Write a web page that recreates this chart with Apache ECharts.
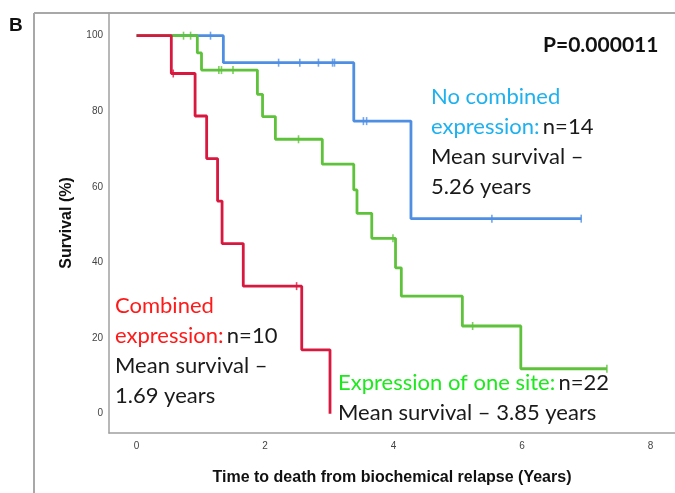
<!DOCTYPE html>
<html>
<head>
<meta charset="utf-8">
<script src="https://cdn.jsdelivr.net/npm/echarts@6/dist/echarts.min.js"></script>
<style>html,body{margin:0;padding:0;background:#fff}#c{width:675px;height:493px}</style>
</head>
<body>
<div id="c"></div>
<script>
// Kaplan-Meier step points [time (years), survival %]
const blueSteps = [[0,100],[1.35,92.86],[3.38,77.4],[4.27,51.6],[6.92,51.6]];
const blueCensors = [[1.15,100],[2.21,92.86],[2.54,92.86],[2.83,92.86],[3.05,92.86],[3.08,92.86],[3.53,77.4],[3.58,77.4],[5.53,51.6],[6.92,51.6]];
const greenSteps = [[0,100],[0.945,95.45],[1.01,90.9],[1.88,84.5],[1.96,78.6],[2.16,72.6],[2.89,66.0],[3.38,59.2],[3.43,53.0],[3.66,46.4],[4.03,38.6],[4.12,31.1],[5.07,23.2],[5.98,11.9],[7.32,11.9]];
const greenCensors = [[0.73,100],[0.84,100],[1.28,90.9],[1.32,90.9],[1.5,90.9],[2.52,72.6],[3.99,46.4],[5.23,23.2],[7.32,11.9]];
const redSteps = [[0,100],[0.54,90],[0.91,78.75],[1.09,67.5],[1.26,56.25],[1.33,45],[1.66,33.75],[2.57,16.9],[3.01,0]];
const redCensors = [[0.57,90],[2.49,33.75]];
const xTicks = [0,2,4,6,8];
const yTicks = [0,20,40,60,80,100];

const BLUE = '#4f8fe3', GREEN = '#5ec23a', RED = '#d9183f';
const chart = echarts.init(document.getElementById('c'), null, {renderer:'canvas'});
function stepSeries(data, color){
  return {type:'line', step:'end', data:data, symbol:'none', lineStyle:{color:color,width:2.8}, silent:true, animation:false};
}
function censorSeries(data, color){
  return {type:'scatter', data:data, symbol:'rect', symbolSize:[1.6,8], itemStyle:{color:color}, silent:true, animation:false};
}
const txt = "Lato";
chart.setOption({
  animation:false,
  grid:{left:109, top:13, right:0, bottom:60},
  xAxis:{type:'value', min:-0.43, max:8.38,
    name:'Time to death from biochemical relapse (Years)', nameLocation:'middle', nameGap:37,
    nameTextStyle:{fontFamily:'Liberation Sans', fontWeight:'bold', fontSize:16, color:'#111'},
    axisLine:{show:true, onZero:false, lineStyle:{color:'#a0a0a0', width:1.5}},
    axisTick:{show:false},
    splitLine:{show:false},
    axisLabel:{customValues:xTicks, fontFamily:'Liberation Sans', fontSize:10, color:'#444', margin:8}
  },
  yAxis:{type:'value', min:-5.1, max:106,
    name:'Survival (%)', nameLocation:'middle', nameGap:34,
    nameTextStyle:{fontFamily:'Liberation Sans', fontWeight:'bold', fontSize:16, color:'#111'},
    axisLine:{show:true, onZero:false, lineStyle:{color:'#a0a0a0', width:1.5}},
    axisTick:{show:false},
    splitLine:{show:false},
    axisLabel:{customValues:yTicks, fontFamily:'Liberation Sans', fontSize:10, color:'#444', margin:6}
  },
  series:[
    stepSeries(blueSteps, BLUE), censorSeries(blueCensors, BLUE),
    stepSeries(greenSteps, GREEN), censorSeries(greenCensors, GREEN),
    stepSeries(redSteps, RED), censorSeries(redCensors, RED)
  ],
  graphic:[
    {type:'line', shape:{x1:34,y1:13,x2:675,y2:13}, style:{stroke:'#a8a8a8', lineWidth:2}},
    {type:'line', shape:{x1:34,y1:13,x2:34,y2:493}, style:{stroke:'#a8a8a8', lineWidth:2}},
    {type:'text', x:9, y:26, style:{text:'B', font:'bold 19px "Liberation Sans"', fill:'#111', verticalAlign:'middle'}},
    {type:'text', x:543, y:45, style:{text:'P=0.000011', font:'bold 21px '+txt, fill:'#111', verticalAlign:'middle'}},
    {type:'text', x:431, y:142, style:{
      text:'{b|No combined}\n{b|expression:} {k|n=14}\n{k|Mean survival –}\n{k|5.26 years}',
      verticalAlign:'middle', lineHeight:30,
      rich:{b:{fill:'#1eb1ef', font:'22px '+txt, lineHeight:30}, k:{fill:'#1a1a1a', font:'22px '+txt, lineHeight:30}}
    }},
    {type:'text', x:115, y:351, style:{
      text:'{r|Combined}\n{r|expression:} {k|n=10}\n{k|Mean survival –}\n{k|1.69 years}',
      verticalAlign:'middle', lineHeight:30,
      rich:{r:{fill:'#ff1a1a', font:'22px '+txt, lineHeight:30}, k:{fill:'#1a1a1a', font:'22px '+txt, lineHeight:30}}
    }},
    {type:'text', x:338, y:398, style:{
      text:'{g|Expression of one site:} {k|n=22}\n{k|Mean survival – 3.85 years}',
      verticalAlign:'middle', lineHeight:30,
      rich:{g:{fill:'#1ee81e', font:'22px '+txt, lineHeight:30}, k:{fill:'#1a1a1a', font:'22px '+txt, lineHeight:30}}
    }}
  ]
});
</script>
</body>
</html>
